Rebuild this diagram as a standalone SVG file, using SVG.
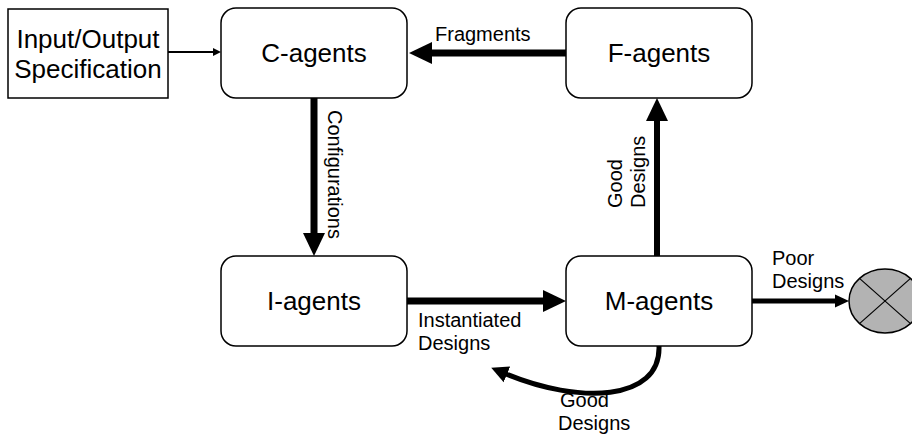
<svg xmlns="http://www.w3.org/2000/svg" width="912" height="434" viewBox="0 0 912 434">
<style>
text{font-family:"Liberation Sans",Arial,sans-serif;fill:#000}
.big{font-size:26px;text-anchor:middle}
.lbl{font-size:20px}
.box{fill:#fff;stroke:#000;stroke-width:1.5}
.ln{fill:none;stroke:#000}
</style>
<defs>
<marker id="aBig" markerUnits="userSpaceOnUse" markerWidth="26" markerHeight="26" viewBox="0 -13 26 26" refX="1" refY="0" orient="auto"><path d="M0,-11 L23,0 L0,11 z" fill="#000"/></marker>
<marker id="aMid" markerUnits="userSpaceOnUse" markerWidth="20" markerHeight="20" viewBox="0 -10 20 20" refX="1" refY="0" orient="auto"><path d="M0,-8.5 L17,0 L0,8.5 z" fill="#000"/></marker>
<marker id="aSm" markerUnits="userSpaceOnUse" markerWidth="16" markerHeight="16" viewBox="0 -8 16 16" refX="1" refY="0" orient="auto"><path d="M0,-6.5 L14,0 L0,6.5 z" fill="#000"/></marker>
<marker id="aTiny" markerUnits="userSpaceOnUse" markerWidth="10" markerHeight="10" viewBox="0 -5 10 10" refX="1" refY="0" orient="auto"><path d="M0,-4 L8,0 L0,4 z" fill="#000"/></marker>
</defs>
<g id="connectors">
<line class="ln" x1="168" y1="52" x2="214" y2="52" stroke-width="2" marker-end="url(#aTiny)"/>
<line class="ln" x1="566" y1="53" x2="431" y2="53" stroke-width="7" marker-end="url(#aBig)"/>
<line class="ln" x1="314" y1="98" x2="314" y2="234" stroke-width="7" marker-end="url(#aBig)"/>
<line class="ln" x1="407" y1="301" x2="544" y2="301" stroke-width="7" marker-end="url(#aBig)"/>
<line class="ln" x1="657" y1="256" x2="657" y2="120" stroke-width="6" marker-end="url(#aBig)"/>
<line class="ln" x1="752" y1="301" x2="836" y2="301" stroke-width="5" marker-end="url(#aSm)"/>
<path class="ln" d="M659,346 C661,402 578,404 506,374" stroke-width="5" marker-end="url(#aMid)"/>
<text class="lbl" x="435" y="41">Fragments</text>
<text class="lbl" transform="translate(328,110) rotate(90)">Configurations</text>
<text class="lbl" transform="translate(622,208) rotate(-90)"><tspan x="0" y="0">Good</tspan><tspan x="0" y="23">Designs</tspan></text>
<text class="lbl" x="418" y="327">Instantiated</text>
<text class="lbl" x="418" y="350">Designs</text>
<text class="lbl" x="560" y="407">Good</text>
<text class="lbl" x="558" y="430">Designs</text>
<text class="lbl" x="772" y="265">Poor</text>
<text class="lbl" x="772" y="288">Designs</text>
</g>
<g id="io">
<rect x="8" y="9" width="160" height="89" fill="#fff" stroke="#000" stroke-width="1.5"/>
<text class="big" x="88" y="48">Input/Output</text>
<text class="big" x="88" y="78">Specification</text>
</g>
<g id="c-agents">
<rect class="box" x="221" y="8" width="186" height="90" rx="15"/>
<text class="big" x="314" y="62">C-agents</text>
</g>
<g id="f-agents">
<rect class="box" x="566" y="8" width="186" height="90" rx="15"/>
<text class="big" x="659" y="62">F-agents</text>
</g>
<g id="i-agents">
<rect class="box" x="221" y="256" width="186" height="90" rx="15"/>
<text class="big" x="314" y="310">I-agents</text>
</g>
<g id="m-agents">
<rect class="box" x="566" y="256" width="186" height="90" rx="15"/>
<text class="big" x="659" y="310">M-agents</text>
</g>
<g id="sink">
<ellipse cx="885" cy="301" rx="36" ry="32" fill="#b3b3b3" stroke="#000" stroke-width="1.5"/>
<line x1="859.5" y1="278.4" x2="910.5" y2="323.6" stroke="#000" stroke-width="1.2"/>
<line x1="859.5" y1="323.6" x2="910.5" y2="278.4" stroke="#000" stroke-width="1.2"/>
</g>
</svg>
